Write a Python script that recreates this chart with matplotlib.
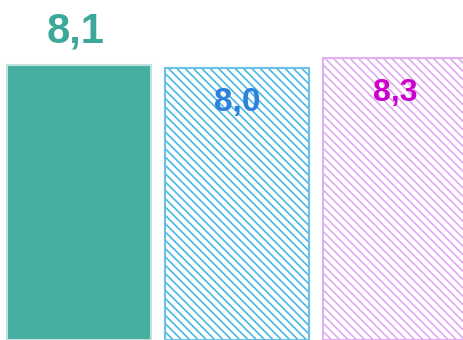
import matplotlib
matplotlib.use("Agg")
import matplotlib.pyplot as plt

# chart data
categories = ["A", "B", "C"]
values = [8.1, 8.0, 8.3]
labels = ["8,1", "8,0", "8,3"]

plt.rcParams['hatch.linewidth'] = 1.2
plt.rcParams['font.family'] = ['Liberation Sans', 'DejaVu Sans']

fig = plt.figure(figsize=(4.64, 3.40), dpi=100)
ax = fig.add_axes([0, 0, 1, 1])

x = list(range(len(categories)))
face = ["#45ae9f", "white", "white"]
edge = ["#bfe3dc", "#6cc0e8", "#e2b0f2"]
hatch_col = [None, "#4ab8e4", "#e0a8f0"]
hatches = [None, "\\\\\\\\", "\\\\\\\\"]
text_col = ["#3ca89a", "#2f80dc", "#cc00cc"]

for i in x:
    ax.bar(x[i], values[i], width=0.91, color=face[i],
           edgecolor=hatch_col[i] if hatches[i] else edge[i],
           hatch=hatches[i], linewidth=0)
    # outline drawn separately so it keeps its own colour
    ax.bar(x[i], values[i], width=0.91, fill=False, edgecolor=edge[i], linewidth=1.5)

# value labels: first one sits above the bar, the others inside
ax.text(x[0] - 0.02, values[0] + 0.98, labels[0], ha='center', va='center',
        fontsize=30, fontweight='bold', color=text_col[0])
ax.text(x[1], values[1] - 1.0, labels[1], ha='center', va='center',
        fontsize=24, fontweight='bold', color=text_col[1])
ax.text(x[2], values[2] - 1.05, labels[2], ha='center', va='center',
        fontsize=23, fontweight='bold', color=text_col[2])

ax.set_xlim(-0.5, 2.437)
ax.set_ylim(0, 10)
ax.axis('off')

fig.savefig("out.png", dpi=100)
